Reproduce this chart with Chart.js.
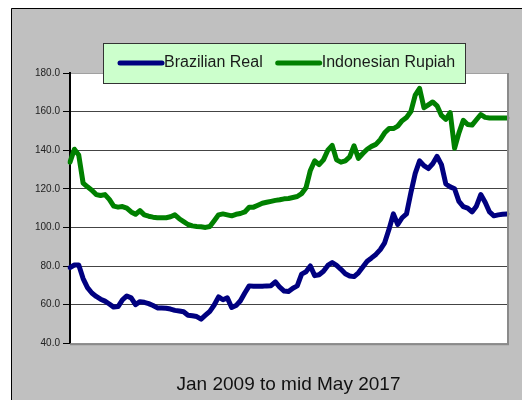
<!DOCTYPE html>
<html>
<head>
<meta charset="utf-8">
<script src="https://cdn.jsdelivr.net/npm/chart.js@4.4.0/dist/chart.umd.min.js"></script>
<style>
  html, body { margin: 0; padding: 0; background: #fff; }
</style>
</head>
<body>
<canvas id="fxChart" width="522" height="400"></canvas>
<script>
// Currency index, Jan 2009 = start, monthly points through mid May 2017
const years = [2009, 2010, 2011, 2012, 2013, 2014, 2015, 2016, 2017];
const monthNames = ['Jan', 'Feb', 'Mar', 'Apr', 'May', 'Jun', 'Jul', 'Aug', 'Sep', 'Oct', 'Nov', 'Dec'];

const brlValues = [
  79.2, 80.5, 80.5, 73.5, 68.8, 66, 64.2, 62.8, 61.8, 60.3,
  58.7, 59, 62.5, 64.5, 63.5, 60, 61.5, 61.2, 60.5, 59.5,
  58.3, 58.2, 58.1, 57.7, 57, 56.7, 56.3, 54.5, 54.2, 53.8,
  52.5, 54.5, 56.5, 59.8, 64, 62.5, 63.5, 58.5, 59.5, 62,
  66, 69.7, 69.5, 69.5, 69.5, 69.7, 69.8, 71.8, 69, 67,
  66.8, 68.5, 69.7, 75.8, 77, 80, 75, 75.5, 77.3, 80.3,
  81.8, 80.3, 78.3, 76, 74.8, 74.5, 76.5, 79.5, 82.5, 84.2,
  86, 88.5, 92, 99, 107, 101.5, 105, 107, 118, 128,
  134.5, 132, 130.5, 133, 136.8, 132.5, 122.5, 121, 120, 113.5,
  110.8, 110, 108, 111, 117, 113, 108, 106, 106.5, 106.8, 107
];

const idrValues = [
  133.8, 140.5, 137.5, 123, 121, 119.3, 117, 116.5, 117, 114.5,
  111, 110.5, 110.8, 110, 108, 106.8, 108.7, 106.5, 105.8, 105.3,
  105, 105, 105, 105.5, 106.5, 104.5, 103, 101.5, 100.8, 100.5,
  100.3, 100, 100.5, 103.5, 106.5, 107, 106.5, 106, 106.8, 107.2,
  108, 110.4, 110.5, 111.5, 112.5, 113, 113.5, 114, 114.3, 114.8,
  115, 115.5, 116, 117.5, 120.5, 129.5, 134.5, 132.5, 135, 140,
  142.5, 135, 133.8, 134.5, 136.5, 142.3, 135.8, 138.3, 140.5, 142,
  143, 145.5, 149, 151.2, 151.2, 152.5, 155.3, 157, 160, 168.5,
  172, 162, 163.5, 165, 163, 158, 156, 159.5, 141, 149,
  155.5, 153.3, 153, 155.8, 158.5, 157, 156.7, 156.7, 156.7, 156.7, 156.7
];

const yTickValues = [40, 60, 80, 100, 120, 140, 160, 180];
const xTitle = 'Jan 2009 to mid May 2017';

const months = [];
years.forEach(y => monthNames.forEach(m => months.push(m + ' ' + y)));
months.length = brlValues.length;

const FONT = '"Liberation Sans", Arial, sans-serif';

// backgrounds, plot frame and the boxed legend
const framePlugin = {
  id: 'frame',
  beforeDraw(chart) {
    const c = chart.ctx;
    const a = chart.chartArea;
    c.save();
    c.fillStyle = '#fff';
    c.fillRect(0, 0, chart.width, chart.height);
    c.fillStyle = '#c0c0c0';
    c.fillRect(11, 8, chart.width - 11, chart.height - 8);
    c.strokeStyle = '#000';
    c.lineWidth = 1;
    c.beginPath();
    c.moveTo(11.5, chart.height);
    c.lineTo(11.5, 8.5);
    c.lineTo(chart.width, 8.5);
    c.stroke();
    c.fillStyle = '#fff';
    c.fillRect(a.left, a.top, a.right - a.left, a.bottom - a.top);
    c.restore();
  },
  afterDraw(chart) {
    const c = chart.ctx;
    const a = chart.chartArea;
    c.save();
    c.strokeStyle = '#8a8a8a';
    c.lineWidth = 2;
    c.beginPath();
    c.moveTo(a.left, a.bottom + 1);
    c.lineTo(a.right + 1, a.bottom + 1);
    c.lineTo(a.right + 1, a.top);
    c.stroke();

    // legend box
    const box = { x: 103, y: 43, w: 362, h: 40 };
    c.fillStyle = '#ccffcc';
    c.fillRect(box.x, box.y, box.w, box.h);
    c.strokeStyle = '#333';
    c.lineWidth = 1;
    c.strokeRect(box.x + 0.5, box.y + 0.5, box.w, box.h);
    c.font = '16px ' + FONT;
    c.textBaseline = 'middle';
    let x = box.x + 17;
    const yMid = box.y + box.h / 2;
    chart.data.datasets.forEach(ds => {
      c.strokeStyle = ds.borderColor;
      c.lineWidth = 5;
      c.lineCap = 'round';
      c.beginPath();
      c.moveTo(x, yMid);
      c.lineTo(x + 42, yMid);
      c.stroke();
      x += 44;
      c.fillStyle = '#1a1a1a';
      c.fillText(ds.label, x, yMid);
      x += c.measureText(ds.label).width + 15;
    });
    c.restore();
  }
};

const ctx = document.getElementById('fxChart');
new Chart(ctx, {
  type: 'line',
  data: {
    labels: months,
    datasets: [
      { label: 'Brazilian Real', data: brlValues, borderColor: '#000080' },
      { label: 'Indonesian Rupiah', data: idrValues, borderColor: '#008000' }
    ]
  },
  options: {
    responsive: false,
    animation: false,
    layout: { padding: { left: 0, right: 15, top: 73, bottom: 0 } },
    plugins: {
      legend: { display: false },
      tooltip: { enabled: false }
    },
    elements: {
      point: { radius: 0 },
      line: { borderWidth: 5, tension: 0, borderCapStyle: 'round', borderJoinStyle: 'round' }
    },
    scales: {
      x: {
        offset: false,
        grid: { display: false },
        border: { display: false },
        ticks: { display: false },
        title: {
          display: true,
          text: xTitle,
          color: '#111',
          font: { family: FONT, size: 19 },
          padding: { top: 22, bottom: 4 }
        }
      },
      y: {
        min: 40,
        max: 180,
        afterFit(scale) { scale.width = 70; },
        afterBuildTicks(scale) { scale.ticks = yTickValues.map(v => ({ value: v })); },
        ticks: {
          callback: v => Number(v).toFixed(1),
          color: '#222',
          font: { family: FONT, size: 10 },
          padding: 3
        },
        grid: {
          color: c => (c.tick && (c.tick.value === 180 || c.tick.value === 40)) ? '#a0a0a0' : '#444',
          lineWidth: 1,
          tickLength: 7,
          tickColor: '#000'
        },
        border: { color: '#000', width: 2 }
      }
    }
  },
  plugins: [framePlugin]
});
</script>
</body>
</html>
